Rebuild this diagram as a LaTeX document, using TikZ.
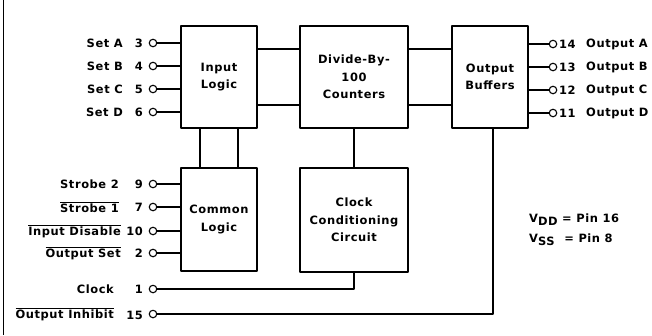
\documentclass[tikz,border=0pt]{standalone}
\usepackage{fontspec}
\setmainfont[LetterSpace=5]{DejaVu Sans}

\begin{document}
\begin{tikzpicture}[
  x=1bp,
  y=-1bp,
  line join=round,
  font=\bfseries\fontsize{11.5}{17.5}\selectfont,
  wire/.style={draw=black,line width=1.2bp},
  block/.style={draw=black,line width=1.3bp,inner sep=0pt,align=center},
  pinhole/.style={circle,draw=black,fill=white,line width=1.1bp,inner sep=0pt,minimum size=7.5bp},
  pinname/.style={inner sep=0pt,anchor=east},
  pinnum/.style={inner sep=0pt},
  supply/.style={inner sep=0pt,anchor=west}
]
  % Match the artwork frame.
  \useasboundingbox (0,0) rectangle (652,335);
  \draw[line width=1bp] (3,0) -- (3,335);

  % Function blocks.
  \node[block,minimum width=76bp,minimum height=102bp] (inlogic) at (219,77) {Input\\Logic};
  \node[block,minimum width=108bp,minimum height=102bp] (divider) at (354,77) {Divide-By-\\100\\Counters};
  \node[block,minimum width=76bp,minimum height=102bp] (outbuf) at (490,77) {Output\\Buffers};
  \node[block,minimum width=76bp,minimum height=103bp] (comlogic) at (219,219.5) {Common\\Logic};
  \node[block,minimum width=108bp,minimum height=104bp] (clockcond) at (354,220) {Clock\\Conditioning\\Circuit};

  % Links between the blocks.
  \foreach \dy in {28,-28} {
    \draw[wire] ([yshift=\dy bp]inlogic.east) -- ([yshift=\dy bp]divider.west);
    \draw[wire] ([yshift=\dy bp]divider.east) -- ([yshift=\dy bp]outbuf.west);
  }
  \foreach \dx in {-19,19} {
    \draw[wire] ([xshift=\dx bp]inlogic.south) -- ([xshift=\dx bp]comlogic.north);
  }
  \draw[wire] (divider.south) -- (clockcond.north);

  % Set inputs into the input logic.
  \foreach \id/\y/\txt/\num in {sa/43/Set A/3,sb/66/Set B/4,sc/89/Set C/5,sd/112/Set D/6} {
    \node[pinhole] (\id) at (153,\y) {};
    \node[pinname] (\id txt) at (123,\y) {\txt};
    \node[pinnum,anchor=east] (\id num) at (143,\y) {\num};
    \draw[wire] (\id) -- (\id -| inlogic.west);
  }

  % Control inputs into the common logic.
  \foreach \id/\y/\x/\txt/\num in {
      stb2/184/119/Strobe 2/9,
      stb1/207/119/$\overline{\mbox{Strobe 1}}$/7,
      indis/231/121/$\overline{\mbox{Input Disable}}$/10,
      outset/253/121/$\overline{\mbox{Output Set}}$/2} {
    \node[pinhole] (\id) at (153,\y) {};
    \node[pinname] (\id txt) at (\x,\y) {\txt};
    \node[pinnum,anchor=east] (\id num) at (143,\y) {\num};
    \draw[wire] (\id) -- (\id -| comlogic.west);
  }

  % Clock and output inhibit run along the bottom.
  \node[pinhole] (clk) at (153,289) {};
  \node[pinname] (clktxt) at (114,289) {Clock};
  \node[pinnum,anchor=east] (clknum) at (143,289) {1};
  \draw[wire] (clk) -| (clockcond.south);

  \node[pinhole] (inh) at (153,314) {};
  \node[pinname] (inhtxt) at (114,314) {$\overline{\mbox{Output Inhibit}}$};
  \node[pinnum,anchor=east] (inhnum) at (143,315) {15};
  \draw[wire] (inh) -| ([xshift=3bp]outbuf.south);

  % Buffered outputs.
  \foreach \id/\y/\txt/\num in {oa/44/Output A/14,ob/67/Output B/13,oc/90/Output C/12,od/113/Output D/11} {
    \node[pinhole] (\id) at (553,\y) {};
    \node[pinnum,anchor=west] (\id num) at (559,\y) {\num};
    \node[supply] (\id txt) at (586,\y) {\txt};
    \draw[wire] (\id) -- (\id -| outbuf.east);
  }

  % Supply pins.
  \node[supply] (vdd) at (529,220) {V\raisebox{-0.45ex}{DD} = Pin 16};
  \node[supply] (vss) at (529,240) {V\raisebox{-0.45ex}{SS}\hspace{0.45em} = Pin 8};
\end{tikzpicture}
\end{document}
